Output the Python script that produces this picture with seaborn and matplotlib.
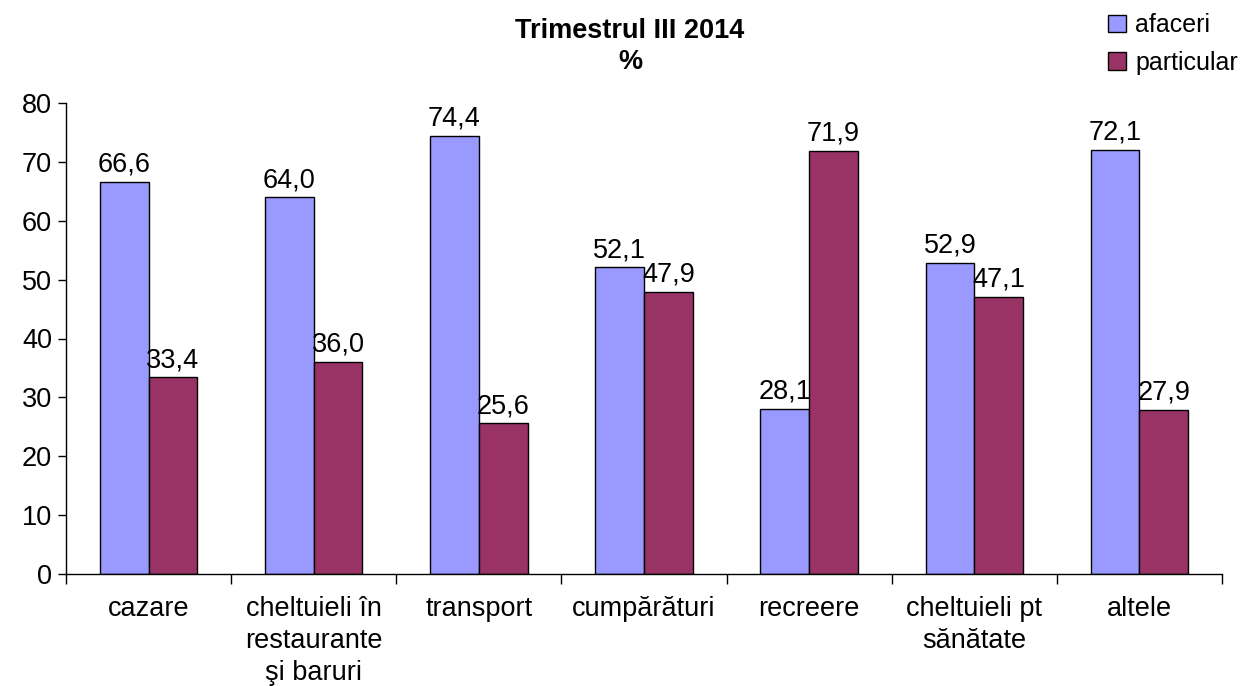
import matplotlib
matplotlib.use("Agg")
import matplotlib.pyplot as plt
import seaborn as sns
import pandas as pd
import numpy as np

# data
categories = ["cazare", "cheltuieli în\nrestaurante\nşi baruri", "transport",
              "cumpărături", "recreere", "cheltuieli pt\nsănătate", "altele"]
afaceri = [66.6, 64.0, 74.4, 52.1, 28.1, 52.9, 72.1]
particular = [33.4, 36.0, 25.6, 47.9, 71.9, 47.1, 27.9]
series = ["afaceri", "particular"]
colors = ["#9999FF", "#993366"]

df = pd.DataFrame({
    "categorie": categories * 2,
    "tip": ["afaceri"] * len(categories) + ["particular"] * len(categories),
    "valoare": afaceri + particular,
})

sns.set_style("white")
plt.rcParams["font.family"] = ["Liberation Sans", "DejaVu Sans"]
for key in ["text.color", "axes.labelcolor", "xtick.color", "ytick.color"]:
    plt.rcParams[key] = "black"

fig = plt.figure(figsize=(12.46, 6.86), dpi=100)
ax = fig.add_axes([66 / 1246, 112 / 686, 1156 / 1246, 471 / 686])

sns.barplot(data=df, x="categorie", y="valoare", hue="tip", hue_order=series,
            palette=colors, width=0.59, edgecolor="black", linewidth=1.0,
            saturation=1, ax=ax, legend=True)

for cont in ax.containers:
    vals = [b.get_height() for b in cont]
    ax.bar_label(cont, labels=[f"{v:.1f}".replace(".", ",") for v in vals],
                 padding=3, fontsize=19.5, color="black")

ax.set_ylim(0, 80)
ax.set_xlim(-0.5, len(categories) - 0.5)
ax.set_yticks(range(0, 81, 10))
ax.set_xlabel("")
ax.set_ylabel("")
for s in ["top", "right"]:
    ax.spines[s].set_visible(False)
for s in ["left", "bottom"]:
    ax.spines[s].set_color("black")
    ax.spines[s].set_linewidth(1.0)

ax.tick_params(axis="y", direction="out", length=6, width=1, color="black",
               labelsize=19.5, pad=4, left=True)
ax.tick_params(axis="x", which="major", length=0, labelsize=19.5, pad=16)
ax.set_xticks(np.arange(-0.5, len(categories), 1.0), minor=True)
ax.tick_params(axis="x", which="minor", direction="out", length=7, width=1,
               color="black", bottom=True)
for lbl in ax.get_xticklabels():
    lbl.set_horizontalalignment("center")
    lbl.set_multialignment("center")
    lbl.set_linespacing(1.3)

fig.text(630 / 1246, 1 - 31 / 686, "Trimestrul III 2014", ha="center",
         va="center", fontsize=19.5, fontweight="bold")
fig.text(630 / 1246, 1 - 62 / 686, "%", ha="center", va="center",
         fontsize=19.5, fontweight="bold")

handles, labels = ax.get_legend_handles_labels()
ax.get_legend().remove()
fig.legend(handles, labels, loc="upper left", bbox_to_anchor=(1098 / 1246, 1 - 3 / 686),
           frameon=False, fontsize=18, handlelength=0.7, handleheight=0.7,
           handletextpad=0.4, labelspacing=0.55, borderaxespad=0.0)

fig.savefig("out.png", dpi=100)
